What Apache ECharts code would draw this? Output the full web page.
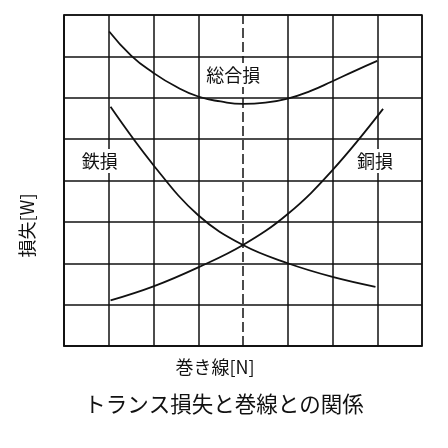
<!DOCTYPE html>
<html>
<head>
<meta charset="utf-8">
<script src="https://cdn.jsdelivr.net/npm/echarts@6/dist/echarts.min.js"></script>
<style>
  html, body { margin: 0; padding: 0; background: #fff; }
  #chartmain { width: 448px; height: 448px; }
</style>
</head>
<body>
<div id="chartmain"></div>
<script>
// データ
var totalX   = [1.01, 1.5, 2, 2.5, 3, 3.5, 4, 4.5, 5, 5.5, 6, 6.5, 7];
var totalY   = [7.6, 7.02, 6.6, 6.27, 6.03, 5.91, 5.85, 5.88, 5.98, 6.16, 6.4, 6.65, 6.89];
var ironX    = [1.04, 2, 3, 4, 5, 6, 6.96];
var ironY    = [5.78, 4.37, 3.16, 2.44, 2.0, 1.67, 1.43];
var copperX  = [1.04, 2, 3, 4, 5, 6, 7.13];
var copperY  = [1.1, 1.44, 1.9, 2.44, 3.19, 4.25, 5.73];
var seriesNames = ['総合損', '鉄損', '銅損'];
var ratedN = 4; // 破線の位置

var FONT = '"Noto Sans CJK JP", "Noto Sans", sans-serif';
var INK = '#111';

function pairs(xs, ys) {
    var out = [];
    for (var i = 0; i < xs.length; i++) out.push([xs[i], ys[i]]);
    return out;
}

// 縦のグリッド線: 破線の位置だけ透明にする
var vColors = [];
for (var i = 0; i <= 8; i++) vColors.push(i === ratedN ? 'rgba(0,0,0,0)' : INK);

var labelStyle = {
    show: true,
    formatter: '{b}',
    color: INK,
    fontFamily: FONT,
    fontSize: 18,
    backgroundColor: '#fff',
    padding: [3, 2]
};

function curve(name, data, tag, smooth) {
    return {
        name: name,
        type: 'line',
        data: data,
        smooth: smooth,
        symbol: 'none',
        lineStyle: { color: INK, width: 1.8 },
        markPoint: {
            symbol: 'circle',
            symbolSize: 0,
            label: labelStyle,
            data: [{ name: name, coord: tag }]
        },
        z: 3
    };
}

var option = {
    animation: false,
    backgroundColor: '#fff',
    title: {
        text: 'トランス損失と巻線との関係',
        left: 'center',
        top: 388,
        textStyle: { fontFamily: FONT, fontSize: 21.5, fontWeight: 'normal', color: INK }
    },
    grid: {
        left: 64, right: 26, top: 15, bottom: 102,
        show: true, borderColor: INK, borderWidth: 1.5
    },
    xAxis: {
        type: 'value', min: 0, max: 8, interval: 1,
        name: '巻き線[N]',
        nameLocation: 'middle',
        nameGap: 12,
        nameTextStyle: { fontFamily: FONT, fontSize: 18, color: INK, padding: [0, 56, 0, 0] },
        axisLine: { show: true, lineStyle: { color: INK, width: 1.5 } },
        axisTick: { show: false },
        axisLabel: { show: false },
        splitLine: { show: true, lineStyle: { color: vColors, width: 1.5 } }
    },
    yAxis: {
        type: 'value', min: 0, max: 8, interval: 1,
        name: '損失[W]',
        nameLocation: 'middle',
        nameGap: 28,
        nameTextStyle: { fontFamily: FONT, fontSize: 18, color: INK, padding: [0, 90, 0, 0] },
        axisLine: { show: true, lineStyle: { color: INK, width: 1.5 } },
        axisTick: { show: false },
        axisLabel: { show: false },
        splitLine: { show: true, lineStyle: { color: INK, width: 1.5 } }
    },
    series: [
        curve(seriesNames[0], pairs(totalX, totalY), [3.78, 6.55], 0.5),
        curve(seriesNames[1], pairs(ironX, ironY), [0.8, 4.47], 0.4),
        curve(seriesNames[2], pairs(copperX, copperY), [6.95, 4.47], 0.4),
        {
            type: 'line',
            data: [],
            silent: true,
            markLine: {
                symbol: 'none',
                label: { show: false },
                lineStyle: { color: INK, width: 1.5, type: [10, 4] },
                data: [{ xAxis: ratedN }]
            },
            z: 2
        }
    ]
};

var myChart = echarts.init(document.getElementById('chartmain'));
myChart.setOption(option);
</script>
</body>
</html>
